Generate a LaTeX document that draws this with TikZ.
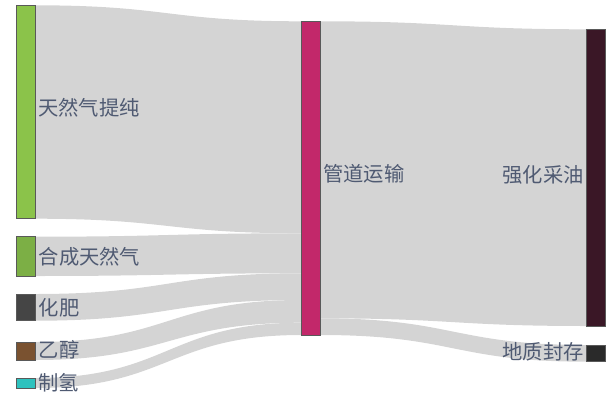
\documentclass[tikz,border=0pt]{standalone}
\usepackage{fontspec}
\newfontfamily\cjk{Noto Sans CJK SC}
\usetikzlibrary{calc}
\definecolor{flowgray}{HTML}{D4D4D4}
\definecolor{labelc}{HTML}{4F5A72}
\definecolor{cA}{HTML}{8BC34A}
\definecolor{cB}{HTML}{7CAF45}
\definecolor{cC}{HTML}{454545}
\definecolor{cD}{HTML}{7A5230}
\definecolor{cE}{HTML}{2EC2BE}
\definecolor{cM}{HTML}{C2286A}
\definecolor{cR}{HTML}{3A1726}
\definecolor{cS}{HTML}{2A2A2A}
\tikzset{
  bar/.style={draw=black!65, line width=0.6pt, minimum width=19pt, inner sep=0pt, outer sep=0pt},
  lab/.style={text=labelc, font=\cjk\fontsize{20.3}{21}\selectfont, inner sep=0pt},
}
\newcommand{\flowband}[4]{%
  \fill[flowgray] let \p1=#1, \p2=#2, \p3=#3, \p4=#4 in
    (\p1) .. controls ({0.5*\x1+0.5*\x3},\y1) and ({0.5*\x1+0.5*\x3},\y3) .. (\p3)
    -- (\p4) .. controls ({0.5*\x2+0.5*\x4},\y4) and ({0.5*\x2+0.5*\x4},\y2) .. (\p2) -- cycle;}
\begin{document}
\begin{tikzpicture}[x=1pt,y=-1pt]
\useasboundingbox (0,0) rectangle (615,399);
% node positions (named coordinates)
\coordinate (n1) at (25.5,112);
\coordinate (n2) at (25.5,256.35);
\coordinate (n3) at (25.5,307.35);
\coordinate (n4) at (25.5,351);
\coordinate (n5) at (25.5,383);
\coordinate (mid) at (310.8,178.15);
\coordinate (r1) at (596.2,177.65);
\coordinate (r2) at (596.2,353.35);
% flow end points
\coordinate (a1t) at ($(n1)+(9.5,-106.7)$); \coordinate (a1b) at ($(n1)+(9.5,106.7)$);
\coordinate (a2t) at ($(n2)+(9.5,-19.65)$); \coordinate (a2b) at ($(n2)+(9.5,19.65)$);
\coordinate (a3t) at ($(n3)+(9.5,-13.35)$); \coordinate (a3b) at ($(n3)+(9.5,13.35)$);
\coordinate (a4t) at ($(n4)+(9.5,-9)$); \coordinate (a4b) at ($(n4)+(9.5,9)$);
\coordinate (a5t) at ($(n5)+(9.5,-5)$); \coordinate (a5b) at ($(n5)+(9.5,5)$);
\coordinate (mL0) at ($(mid)+(-9.5,-156.85)$);
\coordinate (mL1) at ($(mL0)+(0,212)$);
\coordinate (mL2) at ($(mL0)+(0,252)$);
\coordinate (mL3) at ($(mL0)+(0,278.7)$);
\coordinate (mL4) at ($(mL0)+(0,301.4)$);
\coordinate (mL5) at ($(mL0)+(0,313.7)$);
\coordinate (mR0) at ($(mid)+(9.5,-156.85)$);
\coordinate (mR1) at ($(mR0)+(0,297)$);
\coordinate (mR2) at ($(mR0)+(0,313.7)$);
\coordinate (b1t) at ($(r1)+(-9.5,-148.35)$); \coordinate (b1b) at ($(r1)+(-9.5,148.35)$);
\coordinate (b2t) at ($(r2)+(-9.5,-8.35)$); \coordinate (b2b) at ($(r2)+(-9.5,8.35)$);
% flows
\flowband{(a1t)}{(a1b)}{(mL0)}{(mL1)}
\flowband{(a2t)}{(a2b)}{(mL1)}{(mL2)}
\flowband{(a3t)}{(a3b)}{(mL2)}{(mL3)}
\flowband{(a4t)}{(a4b)}{(mL3)}{(mL4)}
\flowband{(a5t)}{(a5b)}{(mL4)}{(mL5)}
\flowband{(mR0)}{(mR1)}{(b1t)}{(b1b)}
\flowband{(mR1)}{(mR2)}{(b2t)}{(b2b)}
% bars
\node[bar, fill=cA, minimum height=213.4pt] (N1) at (n1) {};
\node[bar, fill=cB, minimum height=39.3pt] (N2) at (n2) {};
\node[bar, fill=cC, minimum height=26.7pt] (N3) at (n3) {};
\node[bar, fill=cD, minimum height=18pt] (N4) at (n4) {};
\node[bar, fill=cE, minimum height=10pt] (N5) at (n5) {};
\node[bar, fill=cM, minimum height=313.7pt] (NM) at (mid) {};
\node[bar, fill=cR, minimum height=296.7pt] (R1) at (r1) {};
\node[bar, fill=cS, minimum height=16.7pt] (R2) at (r2) {};
% labels
\node[lab, anchor=west] (t1) at (38,108) {天然气提纯};
\node[lab, anchor=west] (t2) at (38.5,257) {合成天然气};
\node[lab, anchor=west] (t3) at (38.5,308) {化肥};
\node[lab, anchor=west] (t4) at (38.5,350) {乙醇};
\node[lab, anchor=west] (t5) at (38,383) {制氢};
\node[lab, anchor=west] (tm) at (323,174) {管道运输};
\node[lab, anchor=east] (tr1) at (584,175) {强化采油};
\node[lab, anchor=east] (tr2) at (584,352) {地质封存};
\end{tikzpicture}
\end{document}
